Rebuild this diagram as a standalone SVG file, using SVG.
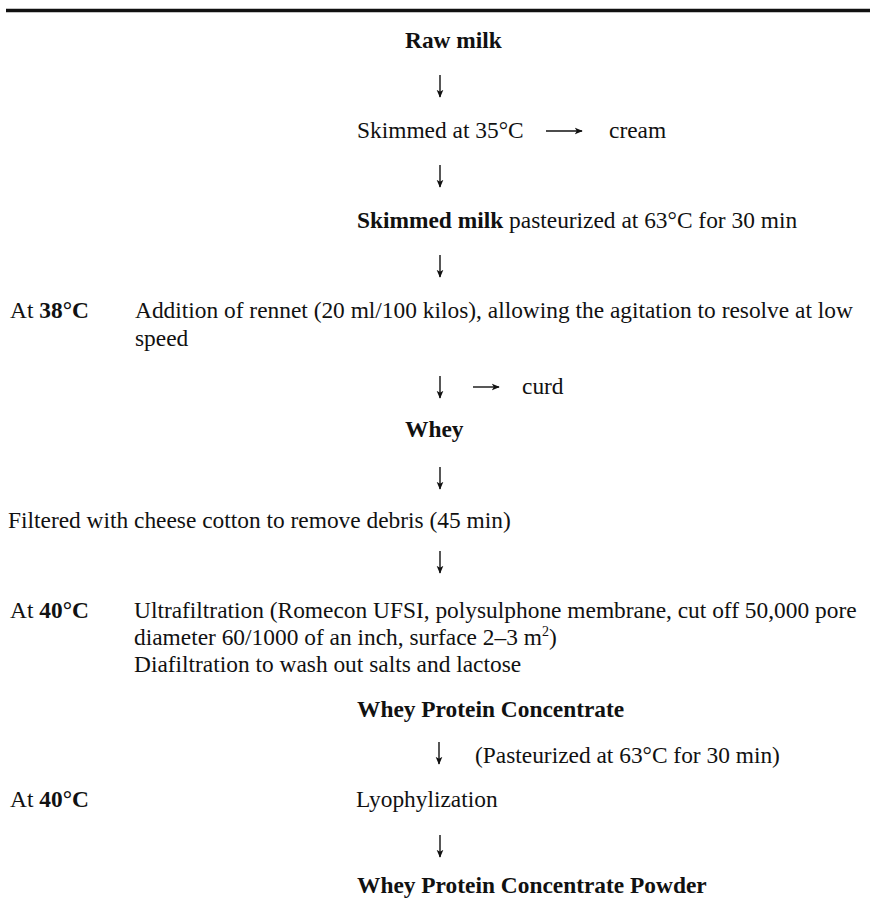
<svg xmlns="http://www.w3.org/2000/svg" width="870" height="913" viewBox="0 0 870 913">
<defs>
<marker id="ah" viewBox="0 0 10 10" refX="9" refY="5" markerWidth="8" markerHeight="8" markerUnits="userSpaceOnUse" orient="auto">
<path d="M0,0.8 L10,5 L0,9.2 L2.5,5 Z" fill="#111"/>
</marker>
<style>
text{font-family:"Liberation Serif","Times New Roman",serif;font-size:23.4px;fill:#111}
.b{font-weight:bold}
.c line{stroke:#111;stroke-width:1.4;marker-end:url(#ah)}
</style>
</defs>
<rect width="870" height="913" fill="#fff"/>
<line x1="6" y1="10.5" x2="870" y2="10.5" stroke="#111" stroke-width="3.5"/>
<g id="raw-milk"><text class="b" x="405" y="48">Raw milk</text></g>
<g id="skimmed"><text x="357" y="138">Skimmed at 35°C</text></g>
<g id="cream"><text x="609" y="138">cream</text></g>
<g id="skimmed-milk"><text x="357" y="228"><tspan class="b">Skimmed milk</tspan> pasteurized at 63°C for 30 min</text></g>
<g id="rennet">
<text x="10" y="318">At <tspan class="b">38°C</tspan></text>
<text x="135" y="318">Addition of rennet (20 ml/100 kilos), allowing the agitation to resolve at low</text>
<text x="135" y="346">speed</text>
</g>
<g id="curd"><text x="522" y="394">curd</text></g>
<g id="whey"><text class="b" x="405" y="437">Whey</text></g>
<g id="filtered"><text x="8" y="528">Filtered with cheese cotton to remove debris (45 min)</text></g>
<g id="ultrafiltration">
<text x="10" y="618">At <tspan class="b">40°C</tspan></text>
<text x="134" y="618">Ultrafiltration (Romecon UFSI, polysulphone membrane, cut off 50,000 pore</text>
<text x="134" y="645">diameter 60/1000 of an inch, surface 2–3 m<tspan font-size="14" dy="-9">2</tspan><tspan dy="9">)</tspan></text>
<text x="134" y="672">Diafiltration to wash out salts and lactose</text>
</g>
<g id="wpc"><text class="b" x="357" y="717">Whey Protein Concentrate</text></g>
<g id="pasteurized"><text x="475" y="763">(Pasteurized at 63°C for 30 min)</text></g>
<g id="lyophylization">
<text x="10" y="807">At <tspan class="b">40°C</tspan></text>
<text x="356" y="807">Lyophylization</text>
</g>
<g id="wpcp"><text class="b" x="357" y="893">Whey Protein Concentrate Powder</text></g>
<g id="connectors" class="c">
<line x1="440" y1="75" x2="440" y2="97"/>
<line x1="546" y1="131" x2="582" y2="131"/>
<line x1="440" y1="165" x2="440" y2="187"/>
<line x1="440" y1="255" x2="440" y2="277"/>
<line x1="440" y1="376" x2="440" y2="398"/>
<line x1="473" y1="387" x2="499" y2="387"/>
<line x1="440" y1="467" x2="440" y2="489"/>
<line x1="440" y1="551" x2="440" y2="573"/>
<line x1="439" y1="742" x2="439" y2="764"/>
<line x1="440" y1="835" x2="440" y2="857"/>
</g>
</svg>
